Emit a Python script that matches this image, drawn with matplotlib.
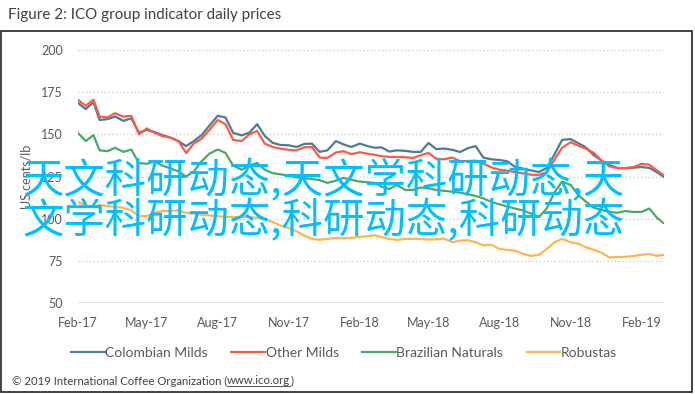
import datetime
import matplotlib as mpl
mpl.use('Agg')
import matplotlib.pyplot as plt
import matplotlib.dates as mdates
from matplotlib.patches import Rectangle
from matplotlib.lines import Line2D

# --- data (roughly 3 points per month) ---
dates = []
for yr, mo in [(2017, m) for m in range(2, 13)] + [(2018, m) for m in range(1, 13)] + [(2019, m) for m in range(1, 3)]:
    for d in (1, 11, 21):
        dates.append(datetime.date(yr, mo, d))
dates.append(datetime.date(2019, 3, 1))

colombian = [168.6, 165, 169, 158.5, 159, 160.5, 158, 159.5, 151, 152.6,
             151.4, 149.6, 148, 146, 143, 146, 149.5, 155, 161, 160,
             150.8, 149.4, 151, 156, 149, 145, 143.7, 143.5, 142.5, 144.3,
             144.5, 139.6, 140.5, 146, 144, 142.5, 144.5, 143, 142, 142.3,
             139.8, 140.5, 140.2, 139.6, 139.6, 144.9, 141.2, 141.6, 140.8, 139.5,
             141.8, 143, 136.2, 135.2, 134.8, 134, 130.7, 129.6, 128.6, 127.7,
             130, 138, 146.7, 147.2, 144.8, 142.2, 137.6, 134.5, 131.8, 130,
             130, 130.2, 130.6, 130.1, 127.5, 125]
other_milds = [170.4, 167, 170.5, 160.5, 160, 162.5, 160.5, 161, 150, 153.5,
               151, 149, 148, 146, 139, 144.5, 147.5, 152.5, 158.5, 156,
               146.7, 146, 150, 152, 144.5, 142.5, 141.5, 140.8, 140.5, 142.3,
               142.5, 136.2, 136, 139.2, 140, 138.2, 139.4, 138.5, 137.8, 137,
               136.6, 136.6, 136.4, 136, 137.6, 139, 135.5, 135.2, 136.2, 134,
               134.2, 134.4, 132.6, 130.5, 129, 128.5, 127.6, 126.8, 126, 126,
               127.5, 135, 142, 145.3, 143.3, 141.4, 139, 134.5, 131, 130,
               130, 130.5, 132.5, 132, 128.5, 126]
brazilian = [150.8, 146, 149.5, 140.5, 140, 142, 139.6, 141, 133, 132.5,
             134, 131.5, 129.8, 128, 125, 128, 134, 138.5, 141, 139,
             131.5, 129, 131.5, 133, 129, 127, 126.3, 125.5, 124.5, 124,
             123.5, 122.8, 121.2, 122.5, 124.2, 123, 122, 121.6, 121.2, 119,
             117.5, 120, 117, 117, 118.5, 118, 117, 116.5, 116, 115.4,
             114.5, 113.5, 112, 110, 108.5, 107.2, 106, 104.8, 103, 101,
             106, 115.5, 122, 120, 114, 110, 106.5, 105.2, 104, 103.5,
             104.5, 104, 104, 106, 100.5, 97.5]
robustas = [110, 108, 107, 108, 107.5, 107, 106.4, 105, 101.5, 101.5,
            103.5, 104.5, 104.5, 105, 103.4, 103, 102.2, 102, 101.5, 101,
            101, 101, 101, 100.5, 99.5, 98, 96, 94.5, 92.5, 90,
            88, 87.5, 88, 88.6, 88.4, 88.6, 89.2, 89.6, 90.2, 89,
            88, 87.4, 88, 88, 88, 87.6, 87.8, 88.2, 86, 87,
            87.2, 86, 84.2, 84.5, 82, 81.5, 81, 79, 78, 78.5,
            82, 86, 88, 86, 85.2, 83, 81.5, 79.8, 77, 77.3,
            77.4, 77.8, 78.6, 79, 78, 78.5]

series_names = ['Colombian Milds', 'Other Milds', 'Brazilian Naturals', 'Robustas']
series_colors = ['#4f7b95', '#fa5b45', '#4da866', '#fdb64e']
y_ticks = [50, 75, 100, 125, 150, 175, 200]

overlay_lines = ['天文科研动态,天文学科研动态,天', '文学科研动态,科研动态,科研动态']

latin = 'Lato'
gray_txt = '#595959'
W, H = 695, 394

fig = plt.figure(figsize=(6.95, 3.94), dpi=100)
ax = fig.add_axes([78/W, 1 - 303/H, 586/W, 253/H])

for vals, name, col in zip([colombian, other_milds, brazilian, robustas], series_names, series_colors):
    ax.plot(dates, vals, color=col, linewidth=1.6, label=name)

ax.set_ylim(50, 200)
ax.set_yticks(y_ticks)
ax.set_xlim(datetime.date(2017, 2, 1), datetime.date(2019, 3, 2))
ax.xaxis.set_major_locator(mdates.MonthLocator(bymonth=[2, 5, 8, 11]))
ax.xaxis.set_major_formatter(mdates.DateFormatter('%b-%y'))

ax.grid(axis='y', color='#c8c8c8', linestyle=(0, (1, 2)), linewidth=0.9)
ax.axhline(50, color='#d9d9d9', linewidth=1.2, zorder=0)
for s in ax.spines.values():
    s.set_visible(False)
ax.tick_params(length=0, labelsize=9, labelcolor=gray_txt)
ax.tick_params(axis='x', pad=10)
ax.tick_params(axis='y', pad=11)
for lab in ax.get_xticklabels() + ax.get_yticklabels():
    lab.set_fontfamily(latin)
ax.set_ylabel('US cents/lb', fontsize=9, color=gray_txt, family=latin, labelpad=6)

leg = fig.legend(loc='center', bbox_to_anchor=(344/W, 1 - 353/H), ncol=4, frameon=False,
                 prop={'family': latin, 'size': 10}, handlelength=2.4, handletextpad=0.05,
                 columnspacing=1.7)
for t in leg.get_texts():
    t.set_color(gray_txt)

fig.text(8/W, 1 - 15/H, 'Figure 2: ICO group indicator daily prices', fontsize=10.9,
         color='#404040', family=latin, va='center', ha='left')

# copyright line with underlined link
t1 = fig.text(12/W, 1 - 381/H, '© 2019 International Coffee Organization (',
              fontsize=8.2, color='#404040', family=latin, va='center', ha='left')
fig.canvas.draw()
r = fig.canvas.get_renderer()
x1 = t1.get_window_extent(r).x1
t2 = fig.text(x1/W, 1 - 381/H, 'www.ico.org', fontsize=8.2, color='#404040',
              family=latin, va='center', ha='left')
bb2 = t2.get_window_extent(r)
fig.text(bb2.x1/W, 1 - 381/H, ')', fontsize=8.2, color='#404040', family=latin,
         va='center', ha='left')
fig.lines.append(Line2D([bb2.x0/W, bb2.x1/W], [(bb2.y0 + 1)/H, (bb2.y0 + 1)/H],
                        transform=fig.transFigure, color='#404040', linewidth=0.6))

fig.patches.append(Rectangle((1/W, 1 - 392/H), 691/W, 361/H, transform=fig.transFigure,
                             fill=False, edgecolor='#222222', linewidth=1.2))

for i, line in enumerate(overlay_lines):
    fig.text(22/W, 1 - (181 + 40*i)/H, line, fontsize=29.8, color='#00bfff',
             family=['Noto Sans CJK SC', 'DejaVu Sans'], fontweight='medium',
             va='center', ha='left')

fig.savefig('out.png', dpi=100)
